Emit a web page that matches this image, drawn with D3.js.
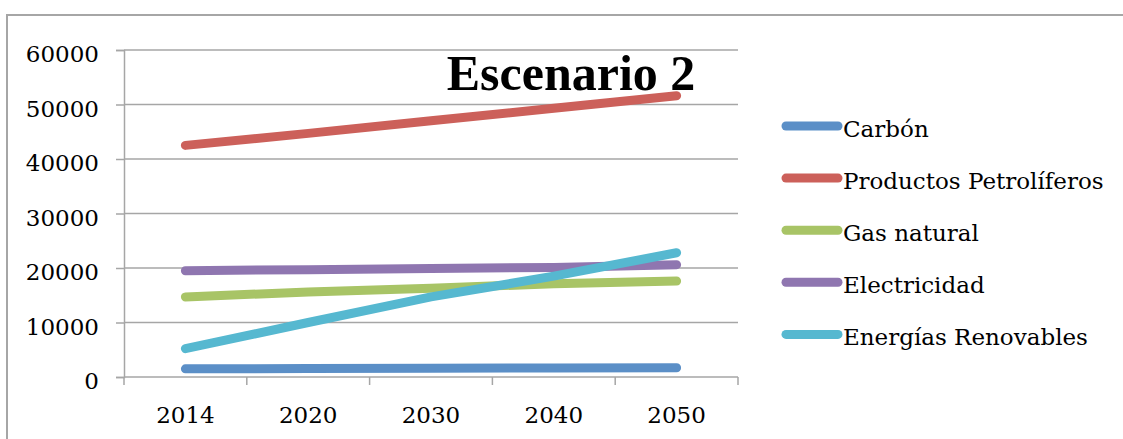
<!DOCTYPE html>
<html>
<head>
<meta charset="utf-8">
<script src="https://cdn.jsdelivr.net/npm/d3@7"></script>
<style>
  html, body { margin: 0; padding: 0; background: #fff; }
  svg { display: block; }
  text { font-family: "DejaVu Serif", serif; fill: #000; }
</style>
</head>
<body>
<svg id="chart" width="1123" height="439"></svg>
<script>
// Categories (years) and value ticks
const years = ["2014", "2020", "2030", "2040", "2050"];
const yTicks = [0, 10000, 20000, 30000, 40000, 50000, 60000];

// Series names and values
const seriesNames = ["Carbón", "Productos Petrolíferos", "Gas natural", "Electricidad", "Energías Renovables"];
const carbon = [1500, 1550, 1600, 1650, 1700];
const petroleo = [42500, 44700, 47000, 49300, 51600];
const gasNatural = [14700, 15600, 16300, 17100, 17600];
const electricidad = [19500, 19700, 19900, 20100, 20600];
const renovables = [5200, 10000, 14700, 18500, 22800];
const seriesColors = ["#5b8fc7", "#cc605a", "#a8c466", "#8f76b0", "#56b8d0"];

const seriesValues = [carbon, petroleo, gasNatural, electricidad, renovables];

const svg = d3.select("#chart");
const gridColor = "#a6a6a6";
const labelSize = 23;

// Outer frame (top and left edges)
svg.append("path")
  .attr("d", "M7,439 L7,15 L1123,15")
  .attr("fill", "none")
  .attr("stroke", gridColor)
  .attr("stroke-width", 2);

const plotLeft = 124, plotRight = 738, plotTop = 50, plotBottom = 377;

const x = d3.scaleBand().domain(years).range([plotLeft, plotRight]).padding(0);
const y = d3.scaleLinear().domain([0, 60000]).range([plotBottom, plotTop]);

// Horizontal gridlines
svg.append("g")
  .selectAll("line")
  .data(yTicks.filter(d => d > 0))
  .join("line")
  .attr("x1", plotLeft).attr("x2", plotRight)
  .attr("y1", d => y(d)).attr("y2", d => y(d))
  .attr("stroke", gridColor).attr("stroke-width", 1.5);

// Y axis
const yAxis = svg.append("g")
  .attr("transform", `translate(${plotLeft},0)`)
  .call(d3.axisLeft(y).tickValues(yTicks).tickSize(8).tickPadding(17).tickFormat(d3.format("d")));
yAxis.select(".domain").attr("stroke", gridColor).attr("stroke-width", 1.5);
yAxis.selectAll(".tick line").attr("stroke", gridColor).attr("stroke-width", 1.5);
yAxis.selectAll(".tick text")
  .attr("font-family", "DejaVu Serif")
  .attr("font-size", labelSize)
  .attr("dy", "0.52em")
  .attr("fill", "#000");

// X axis with ticks at category boundaries
const xAxisG = svg.append("g").attr("transform", `translate(0,${plotBottom})`);
xAxisG.append("line")
  .attr("x1", plotLeft).attr("x2", plotRight).attr("y1", 0).attr("y2", 0)
  .attr("stroke", gridColor).attr("stroke-width", 1.5);
const boundaries = years.map(d => x(d)).concat([x(years[years.length - 1]) + x.bandwidth()]);
xAxisG.selectAll("line.tk")
  .data(boundaries)
  .join("line")
  .attr("class", "tk")
  .attr("x1", d => d).attr("x2", d => d)
  .attr("y1", 0).attr("y2", 8)
  .attr("stroke", gridColor).attr("stroke-width", 1.5);
xAxisG.selectAll("text")
  .data(years)
  .join("text")
  .attr("x", d => x(d) + x.bandwidth() / 2)
  .attr("y", 46)
  .attr("text-anchor", "middle")
  .attr("font-size", labelSize)
  .text(d => d);

// Series lines
const line = d3.line()
  .x((d, i) => x(years[i]) + x.bandwidth() / 2)
  .y(d => y(d));

svg.append("g")
  .selectAll("path")
  .data(seriesValues)
  .join("path")
  .attr("d", d => line(d))
  .attr("fill", "none")
  .attr("stroke", (d, i) => seriesColors[i])
  .attr("stroke-width", 9)
  .attr("stroke-linecap", "round")
  .attr("stroke-linejoin", "round");

// Title
svg.append("text")
  .attr("x", 571)
  .attr("y", 89.5)
  .attr("text-anchor", "middle")
  .attr("font-weight", "bold")
  .attr("font-size", 50)
  .style("font-family", "Liberation Serif")
  .text("Escenario 2");

// Legend
const legend = svg.append("g");
const legendRows = legend.selectAll("g")
  .data(seriesNames)
  .join("g")
  .attr("transform", (d, i) => `translate(0,${126 + i * 52.1})`);
legendRows.append("line")
  .attr("x1", 786).attr("x2", 838)
  .attr("y1", 0).attr("y2", 0)
  .attr("stroke", (d, i) => seriesColors[i])
  .attr("stroke-width", 9)
  .attr("stroke-linecap", "round");
legendRows.append("text")
  .attr("x", 843)
  .attr("y", 11)
  .attr("font-size", labelSize)
  .text(d => d);
</script>
</body>
</html>
